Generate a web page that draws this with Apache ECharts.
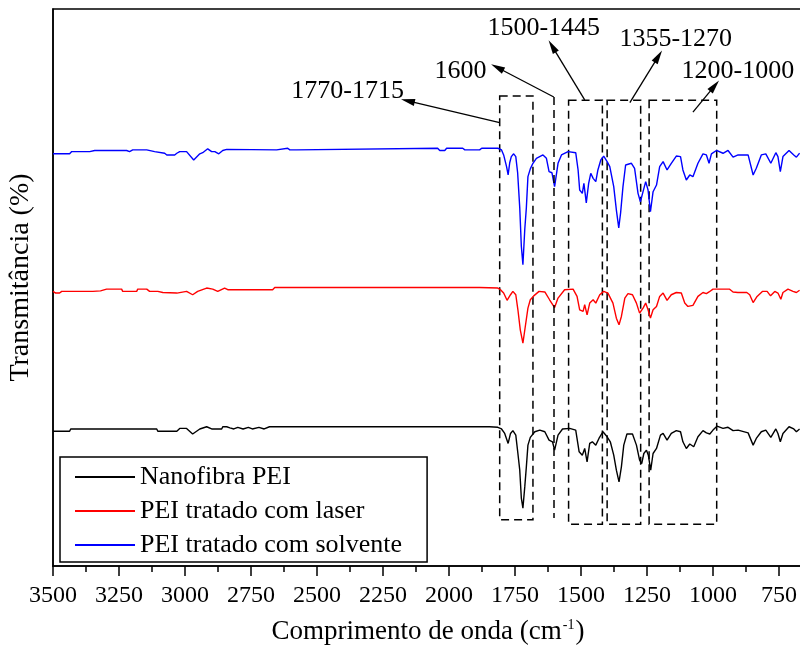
<!DOCTYPE html>
<html><head><meta charset="utf-8">
<script src="https://cdn.jsdelivr.net/npm/echarts@6/dist/echarts.min.js"></script>
<style>html,body{margin:0;padding:0;background:#fff}#c{width:800px;height:649px}</style>
</head><body><div id="c"></div>
<script>
// ---- data (wavenumber cm-1, transmittance in arbitrary offset units) ----
const seriesNames = ['Nanofibra PEI', 'PEI tratado com laser', 'PEI tratado com solvente'];
const seriesColors = ['#000000', '#ff0000', '#0000ff'];

const nanofibra = [
[3500,24.2],[3437,24.2],[3433,24.6],[3425,24.6],[3418,24.6],[3107,24.6],[3103,24.2],[3031,24.2],[3020,24.7],[2994,24.7],
[2971,23.7],[2944,24.6],[2918,25.0],[2899,24.6],[2861,24.6],[2857,25.0],[2842,25.0],[2830,24.8],[2815,24.6],[2800,24.9],
[2780,24.6],[2760,24.9],[2745,24.6],[2720,24.9],[2700,24.6],[2680,25.0],[1846,25.0],[1815,24.9],[1801,24.6],[1789,23.8],
[1776,22.0],[1767,23.8],[1758,24.3],[1747,23.5],[1739,20.2],[1732,17.2],[1726,12.2],[1720,10.4],[1713,14.2],[1707,17.8],
[1701,21.7],[1692,23.1],[1675,24.1],[1656,24.4],[1637,24.1],[1621,22.6],[1608,22.3],[1600,20.8],[1587,23.5],[1570,24.6],
[1543,24.7],[1520,24.4],[1507,20.5],[1495,19.9],[1486,21.1],[1477,18.7],[1467,22.0],[1457,22.3],[1444,21.7],[1432,22.9],
[1417,24.1],[1401,23.2],[1389,22.3],[1376,19.9],[1366,17.2],[1356,15.1],[1347,17.8],[1338,21.7],[1326,23.7],[1305,23.7],
[1290,21.7],[1278,19.0],[1270,18.4],[1262,20.2],[1252,20.8],[1245,19.9],[1236,17.2],[1227,20.2],[1214,21.1],[1199,23.5],
[1189,23.8],[1174,22.6],[1158,23.8],[1139,24.3],[1123,24.1],[1114,22.3],[1101,21.1],[1088,21.9],[1073,21.4],[1057,23.2],
[1038,24.3],[1025,23.9],[1012,23.7],[1000,24.4],[985,25.1],[962,24.7],[943,24.9],[924,24.3],[905,24.4],[867,23.9],
[848,21.7],[836,22.9],[817,24.1],[800,24.4],[781,23.1],[762,24.6],[754,23.8],[745,22.3],[735,23.8],[712,25.0],
[694,24.6],[684,24.1],[672,24.6]
];

const laser = [
[3500,49.3],[3493,49.3],[3490,49.0],[3475,49.0],[3467,49.3],[3349,49.3],[3342,49.6],[3320,49.4],[3297,49.7],[3240,49.7],
[3236,49.3],[3183,49.3],[3179,49.7],[3145,49.7],[3134,49.3],[3103,49.3],[3084,49.1],[3077,49.0],[3031,49.0],[3028,49.3],
[2994,49.3],[2971,48.7],[2952,49.3],[2918,49.9],[2895,49.7],[2876,49.3],[2850,49.9],[2838,49.6],[2668,49.6],[2660,50.0],
[1884,50.0],[1815,49.9],[1805,49.6],[1793,49.0],[1780,47.7],[1767,48.7],[1758,49.3],[1747,48.7],[1739,46.0],[1730,42.4],
[1720,40.0],[1711,43.0],[1701,46.3],[1692,47.8],[1679,48.5],[1659,49.3],[1637,49.2],[1619,47.8],[1600,46.4],[1587,48.1],
[1562,49.6],[1530,49.7],[1515,48.4],[1505,46.0],[1492,45.7],[1486,46.9],[1477,45.1],[1467,47.2],[1454,47.8],[1444,47.2],
[1429,48.7],[1414,49.3],[1398,49.0],[1379,47.2],[1366,44.5],[1356,43.3],[1347,44.8],[1334,48.1],[1322,48.9],[1305,48.7],
[1290,47.2],[1278,45.4],[1265,46.3],[1255,47.2],[1246,46.0],[1237,44.5],[1227,46.0],[1214,46.6],[1202,48.4],[1189,49.0],
[1174,47.7],[1158,48.7],[1139,49.1],[1120,49.0],[1107,47.2],[1095,46.6],[1076,46.8],[1057,48.4],[1038,49.1],[1025,48.9],
[1015,49.2],[1000,49.7],[982,49.7],[937,49.7],[924,49.2],[906,49.1],[872,49.1],[861,48.7],[848,47.3],[833,48.4],
[813,49.3],[795,49.3],[782,48.5],[766,49.3],[754,49.0],[743,47.9],[735,49.1],[716,49.7],[697,49.3],[684,49.1],
[672,49.5]
];

const solvente = [
[3500,74.0],[3437,74.0],[3429,74.4],[3361,74.4],[3342,74.6],[3221,74.6],[3210,74.4],[3198,74.7],[3145,74.7],[3141,74.4],
[3115,74.4],[3077,74.1],[3069,73.8],[3039,73.8],[3031,74.1],[3020,74.4],[2994,74.4],[2967,72.9],[2944,74.0],[2933,74.2],
[2914,74.9],[2899,74.4],[2887,74.4],[2872,74.0],[2857,74.6],[2842,74.8],[2838,74.7],[2653,74.7],[2649,75.0],[2611,75.0],
[2603,74.7],[2577,74.7],[2573,75.0],[2043,75.0],[2035,74.6],[2016,74.6],[2009,75.0],[1948,75.0],[1940,74.7],[1884,74.7],
[1876,75.0],[1846,75.0],[1815,75.0],[1801,74.7],[1793,73.8],[1782,71.7],[1776,70.2],[1770,72.4],[1764,73.5],[1755,74.0],
[1747,73.5],[1740,70.6],[1732,64.3],[1726,57.4],[1720,54.1],[1713,60.4],[1707,64.3],[1701,69.9],[1692,71.3],[1682,72.3],
[1669,73.2],[1644,73.8],[1631,73.2],[1621,70.8],[1610,70.6],[1600,68.1],[1587,72.3],[1574,73.8],[1549,74.4],[1520,74.2],
[1511,71.1],[1505,67.5],[1495,66.9],[1489,68.7],[1480,65.2],[1471,68.7],[1463,70.5],[1454,69.6],[1444,69.0],[1436,71.1],
[1425,72.9],[1414,73.6],[1401,72.6],[1391,71.7],[1376,68.1],[1366,63.9],[1357,60.7],[1350,63.4],[1341,68.1],[1331,72.0],
[1309,72.3],[1297,71.4],[1284,66.9],[1275,65.4],[1265,67.2],[1255,69.0],[1246,67.5],[1237,63.6],[1227,67.2],[1214,68.4],
[1202,71.7],[1189,72.6],[1174,71.1],[1158,72.3],[1139,73.6],[1123,73.5],[1114,71.1],[1101,69.3],[1088,70.2],[1076,69.9],
[1057,72.3],[1038,74.0],[1025,73.8],[1015,72.3],[1006,74.0],[987,74.6],[962,74.1],[943,74.6],[924,73.4],[905,73.8],
[867,73.8],[848,70.2],[836,71.4],[817,73.8],[800,74.0],[781,72.3],[762,74.2],[754,73.5],[745,70.8],[735,73.5],
[712,74.6],[694,73.8],[684,73.4],[672,74.1]
];

// band annotations (wavenumber ranges and their labels)
const bandLabels = ['1770-1715', '1600', '1500-1445', '1355-1270', '1200-1000'];
const bandRanges = [[1808, 1682], [1547, 1419], [1401, 1274], [1242, 986]];
const band1600 = 1602;

// ---- chart ----
const F = "'Liberation Serif','Times New Roman',serif";
const chart = echarts.init(document.getElementById('c'), null, {renderer: 'canvas'});

const dashed = [8, 5];
const boxTops = [84.4, 83.6, 83.6, 83.6];
const boxBottoms = [8.3, 7.5, 7.5, 7.5];

const annotationSeries = {
  name: 'annot-boxes', type: 'line', data: [], silent: true, z: 5,
  markArea: {
    silent: true, label: {show: false},
    itemStyle: {color: 'rgba(0,0,0,0)', borderColor: '#000', borderWidth: 1.5, borderType: dashed},
    emphasis: {disabled: true},
    data: bandRanges.map((r, i) => [{coord: [r[0], boxTops[i]]}, {coord: [r[1], boxBottoms[i]]}])
  },
  markLine: {
    silent: true, symbol: ['none', 'none'], label: {show: false},
    lineStyle: {color: '#000', width: 1.5, type: dashed},
    emphasis: {disabled: true},
    data: [[{coord: [band1600, 84.2]}, {coord: [band1600, 8.6]}]]
  }
};

const arrowSeries = {
  name: 'annot-arrows', type: 'line', data: [], silent: true, z: 6,
  markLine: {
    silent: true, symbol: ['none', 'triangle'], symbolSize: [7, 14], label: {show: false},
    lineStyle: {color: '#000', width: 1.3, type: 'solid'},
    itemStyle: {color: '#000'},
    emphasis: {disabled: true},
    data: [
      [{coord: [1808, 79.6]}, {coord: [2156, 83.5]}],
      [{coord: [1603, 84.2]}, {coord: [1817, 89.5]}],
      [{coord: [1486, 83.7]}, {coord: [1609, 93.3]}],
      [{coord: [1315, 83.2]}, {coord: [1207, 91.5]}],
      [{coord: [1076, 81.5]}, {coord: [994, 86.2]}]
    ]
  },
  markPoint: {
    silent: true, symbol: 'rect', symbolSize: 1,
    itemStyle: {color: 'rgba(0,0,0,0)'},
    label: {show: true, position: 'inside', formatter: '{b}', color: '#000', fontSize: 26, fontFamily: F},
    data: [
      {name: bandLabels[0], coord: [2384, 85.2]},
      {name: bandLabels[1], coord: [1956, 88.8]},
      {name: bandLabels[2], coord: [1641, 96.6]},
      {name: bandLabels[3], coord: [1141, 94.6]},
      {name: bandLabels[4], coord: [906, 88.8]}
    ]
  }
};

const spectra = [nanofibra, laser, solvente].map((d, i) => ({
  name: seriesNames[i], type: 'line', data: d, symbol: 'none', showSymbol: false,
  lineStyle: {color: seriesColors[i], width: 1.4}, itemStyle: {color: seriesColors[i]},
  silent: true, z: 3
}));

chart.setOption({
  animation: false,
  backgroundColor: '#ffffff',
  textStyle: {fontFamily: F},
  grid: {left: 53, right: -45, top: 9, bottom: 83, outerBoundsMode: 'none', containLabel: false,
    show: true, borderColor: '#000', borderWidth: 1.5, backgroundColor: 'rgba(0,0,0,0)'},
  legend: {
    data: seriesNames, orient: 'vertical', left: 60, top: 457,
    padding: [3, 25, 0, 15], itemGap: 0, itemWidth: 60, itemHeight: 2, icon: 'rect',
    borderColor: '#000', borderWidth: 1.5, backgroundColor: '#fff',
    textStyle: {color: '#000', fontSize: 26, fontFamily: F, lineHeight: 34},
    selectedMode: false
  },
  xAxis: {
    type: 'value', inverse: true, min: 500, max: 3500, interval: 250,
    axisLine: {onZero: false, lineStyle: {color: '#000', width: 1.5}},
    axisTick: {show: true, length: 10, lineStyle: {color: '#000', width: 1.5}},
    minorTick: {show: true, splitNumber: 2, length: 6, lineStyle: {color: '#000', width: 1.5}},
    splitLine: {show: false},
    axisLabel: {color: '#000', fontSize: 24, fontFamily: F, margin: 18, formatter: v => String(v)},
    name: 'Comprimento de onda (cm{sup|-1})', nameLocation: 'middle', nameGap: 52,
    nameTextStyle: {color: '#000', fontSize: 27, fontFamily: F, padding: [0, 42, 0, 0],
      rich: {sup: {fontSize: 14, fontFamily: F, color: '#000', verticalAlign: 'top', padding: [0, 1, 12, 1]}}}
  },
  yAxis: {
    type: 'value', min: 0, max: 100,
    axisLine: {show: true, onZero: false, lineStyle: {color: '#000', width: 1.5}},
    axisTick: {show: false}, axisLabel: {show: false}, splitLine: {show: false},
    name: 'Transmitância (%)', nameLocation: 'middle', nameGap: 18,
    nameTextStyle: {color: '#000', fontSize: 28, fontFamily: F, padding: [0, 0, 0, 20]}
  },
  series: [...spectra, annotationSeries, arrowSeries]
});
</script></body></html>
